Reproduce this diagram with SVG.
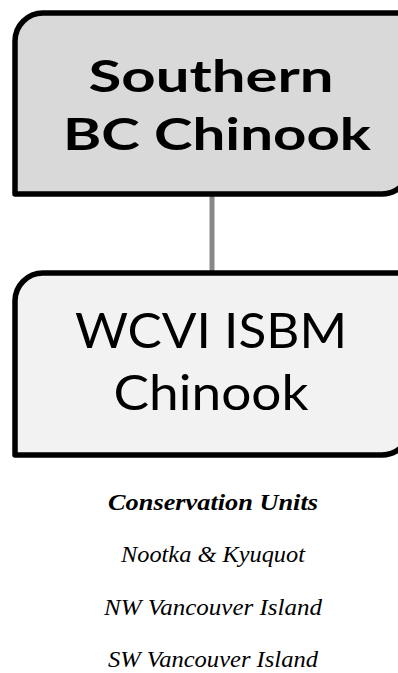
<svg xmlns="http://www.w3.org/2000/svg" width="398" height="673" viewBox="0 0 398 673">
<style>
.box{stroke:#000;stroke-width:5.5;stroke-linejoin:round}
.t1{font-family:Lato,"Open Sans","Liberation Sans",sans-serif;font-weight:bold;font-size:43px;fill:#000;text-anchor:middle}
.t2{font-family:Lato,"Open Sans","Liberation Sans",sans-serif;font-size:48px;fill:#000;text-anchor:middle}
.cu{font-family:"Liberation Serif","DejaVu Serif",serif;font-style:italic;font-size:23px;fill:#000;text-anchor:middle}
</style>
<g id="connectors">
<line x1="212" y1="196" x2="212" y2="272" stroke="#888" stroke-width="5"/>
</g>
<g id="node-southern">
<path class="box" fill="#d9d9d9" d="M15,41 A28,28 0 0 1 43,13 H410 V166 A28,28 0 0 1 382,194 H15 Z"/>
<text class="t1" x="211" y="92" textLength="245" lengthAdjust="spacingAndGlyphs">Southern</text>
<text class="t1" x="217" y="150" textLength="308" lengthAdjust="spacingAndGlyphs">BC Chinook</text>
</g>
<g id="node-wcvi">
<path class="box" fill="#f2f2f2" d="M15,301 A28,28 0 0 1 43,273 H410 V427 A28,28 0 0 1 382,455 H15 Z"/>
<text class="t2" x="211" y="348" textLength="272" lengthAdjust="spacingAndGlyphs">WCVI ISBM</text>
<text class="t2" x="211" y="410" textLength="195" lengthAdjust="spacingAndGlyphs">Chinook</text>
</g>
<g id="conservation-units">
<text class="cu" x="213" y="510" font-weight="bold" textLength="210" lengthAdjust="spacingAndGlyphs">Conservation Units</text>
<text class="cu" x="213" y="562" textLength="184" lengthAdjust="spacingAndGlyphs">Nootka &amp; Kyuquot</text>
<text class="cu" x="213" y="615" textLength="218" lengthAdjust="spacingAndGlyphs">NW Vancouver Island</text>
<text class="cu" x="213" y="667" textLength="210" lengthAdjust="spacingAndGlyphs">SW Vancouver Island</text>
</g>
</svg>
